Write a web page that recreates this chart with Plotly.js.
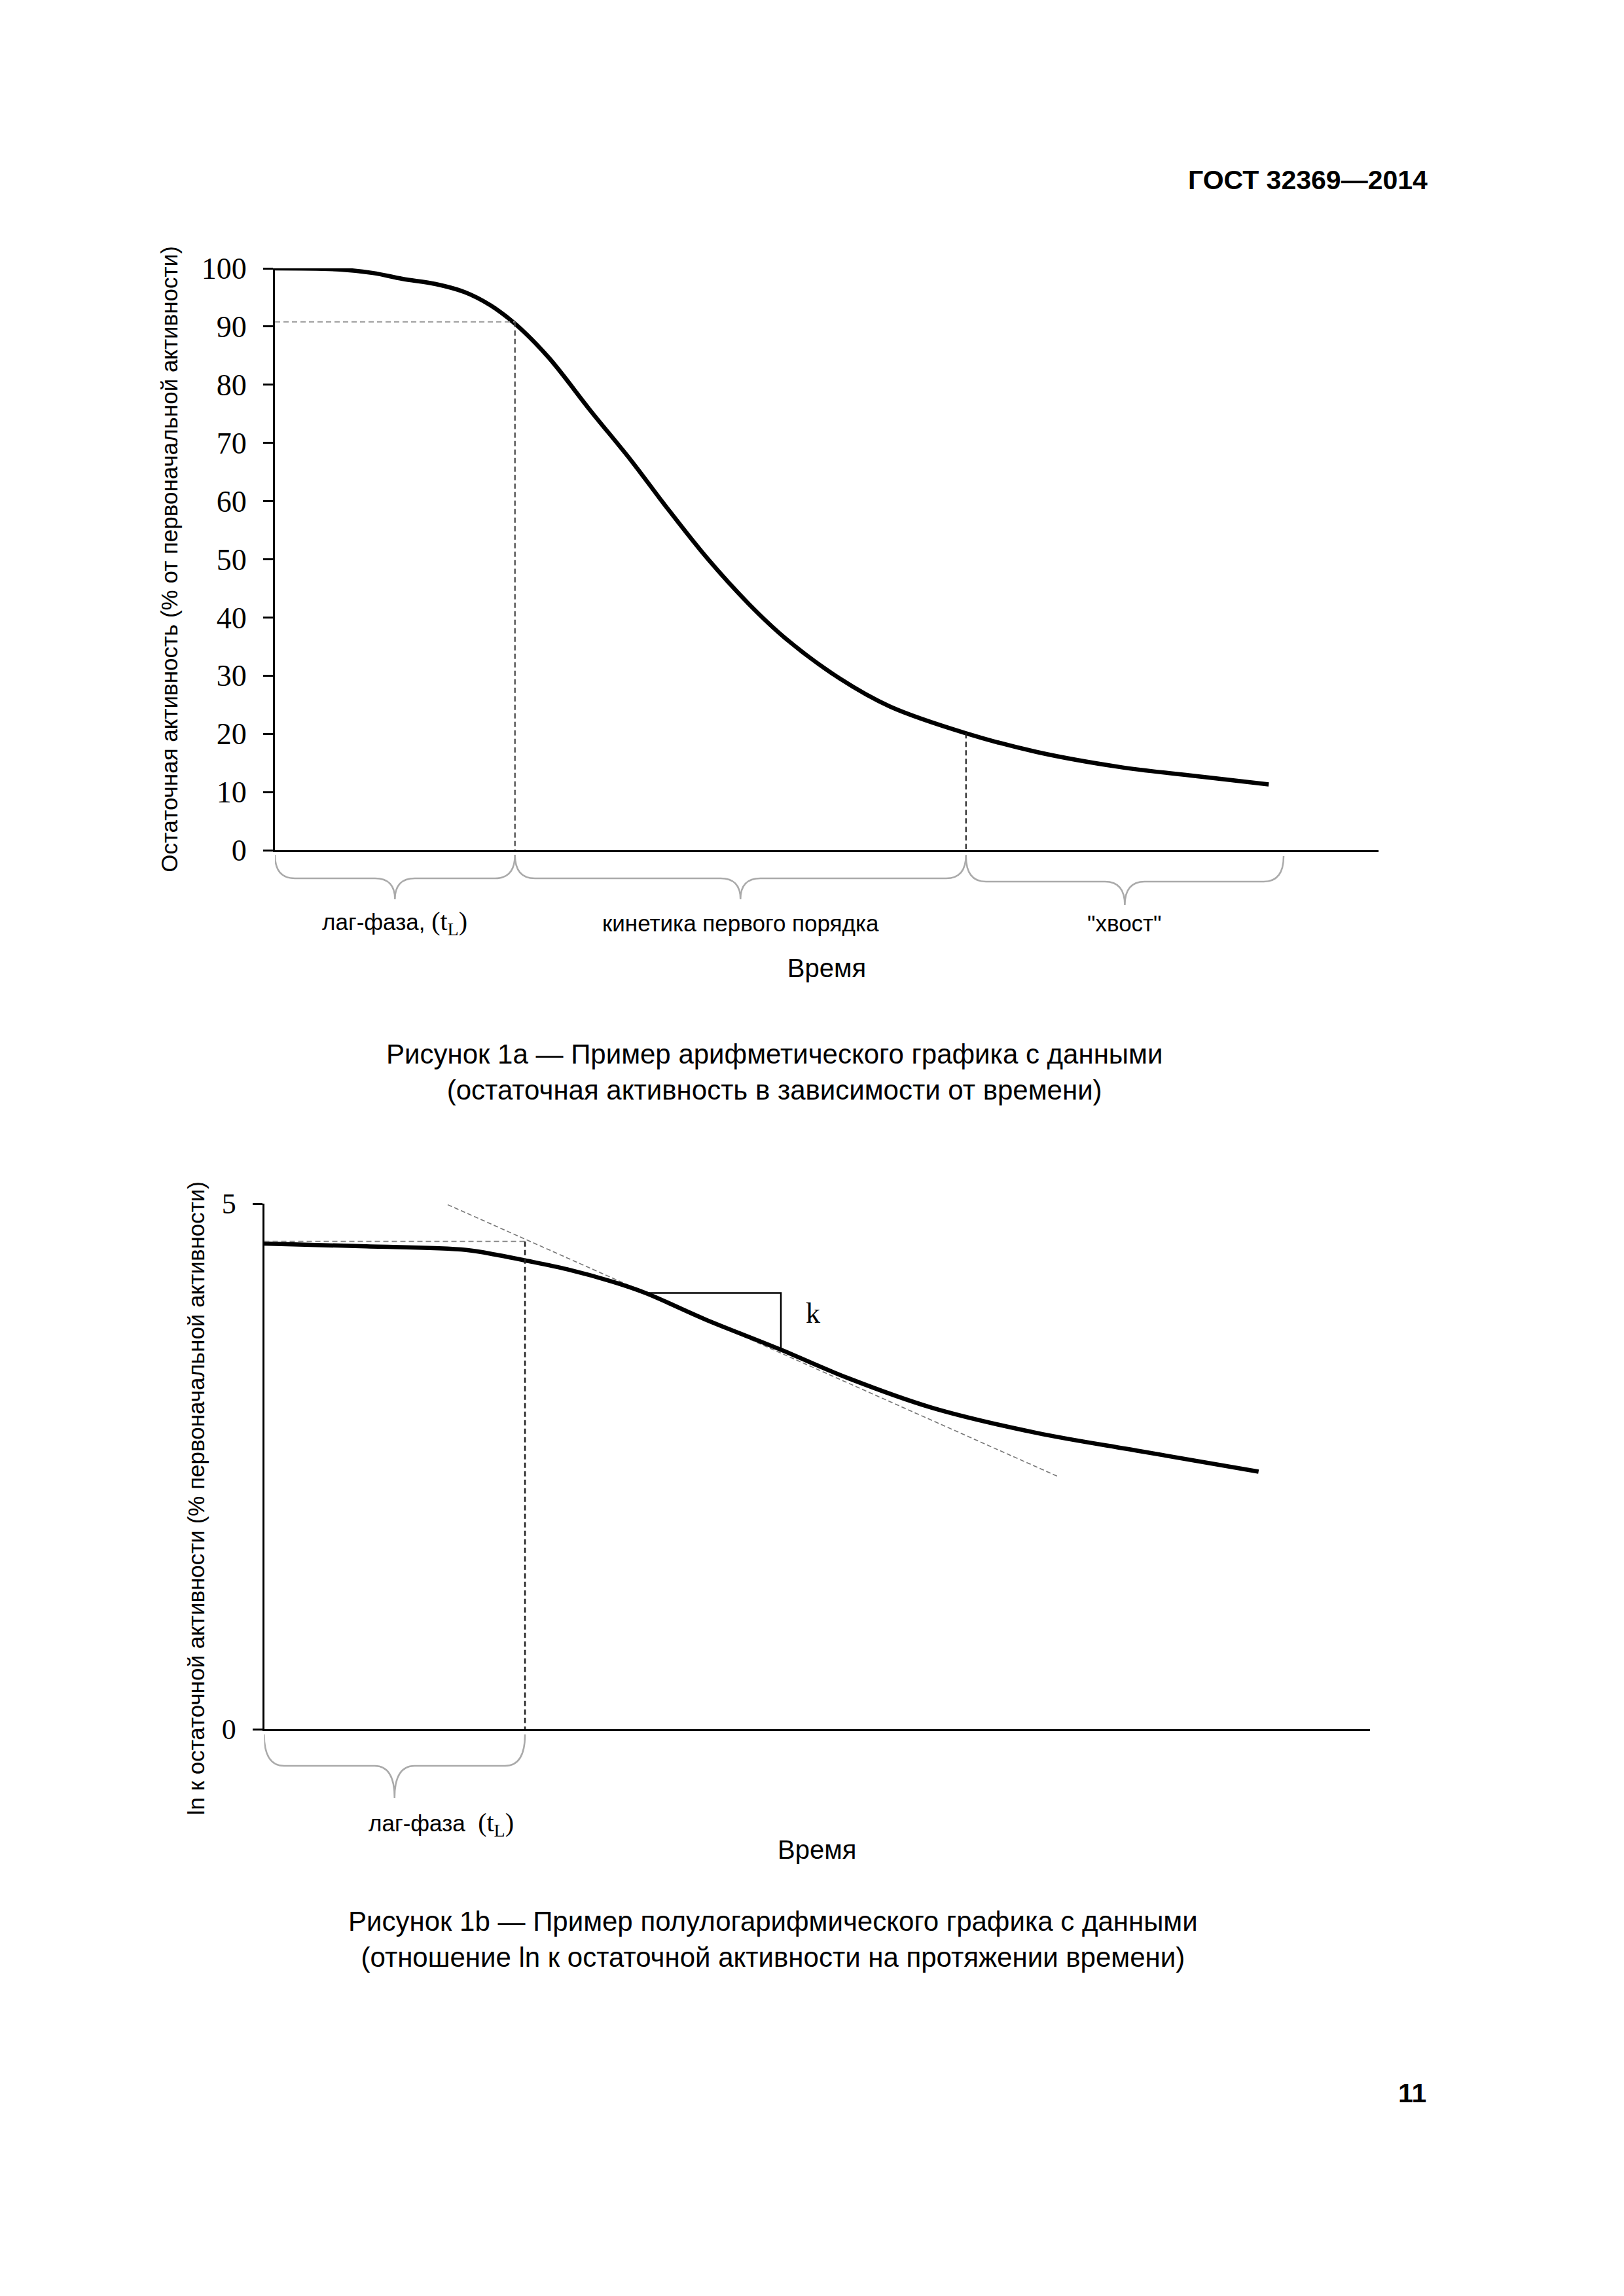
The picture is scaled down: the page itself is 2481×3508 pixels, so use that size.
<!DOCTYPE html>
<html>
<head>
<meta charset="utf-8">
<script src="https://cdn.plot.ly/plotly-3.0.1.min.js"></script>
<style>
  html, body { margin: 0; padding: 0; background: #fff; }
  #chart { width: 2481px; height: 3508px; }
</style>
</head>
<body>
<div id="chart"></div>
<script>
// ---------- DATA: Figure 1a (arithmetic plot) ----------
const time1 = [0, 5.87, 8.89, 11.54, 14.57, 17.22, 19.49, 21.75, 24.79, 28.57, 32.35, 35.38, 39.16, 42.95, 46.27, 51.19, 55.73, 62.62, 68.98, 76.54, 84.11, 90.05];
const activity1 = [100, 99.8, 99.2, 98.2, 97.3, 95.9, 93.7, 90.5, 84.7, 75.6, 66.8, 59.2, 50.2, 42.3, 36.4, 29.5, 24.7, 20.1, 16.9, 14.3, 12.6, 11.3];
const yTicks1 = [0, 10, 20, 30, 40, 50, 60, 70, 80, 90, 100];
const lagEnd1 = 21.75;      // end of lag phase (t_L)
const lagLevel1 = 90.8;     // activity at t_L
const tailStart1 = 62.62;   // start of "tail"
const tailLevel1 = 20.1;
const tailEnd1 = 91.4;
const phaseBounds1 = [0, lagEnd1, tailStart1, tailEnd1];
const phaseLabels1 = ['лаг-фаза, <span style="font-family:\'Liberation Serif\';font-size:40px">(t<sub>L</sub>)</span>', 'кинетика первого порядка', '"хвост"'];

// ---------- DATA: Figure 1b (semi-log plot) ----------
const time2 = [0, 8.73, 18.26, 21.16, 23.59, 27.42, 31.57, 34.48, 39.86, 46.73, 52.81, 60.34, 69.80, 79.22, 89.92];
const lnActivity2 = [4.62, 4.595, 4.56, 4.51, 4.46, 4.375, 4.255, 4.15, 3.90, 3.61, 3.34, 3.06, 2.82, 2.645, 2.45];
const yTicks2 = [0, 5];
const lagEnd2 = 23.59;
const lagLevel2 = 4.64;
const tangentX = [16.60, 71.87];
const tangentY = [4.99, 2.40];
const slopeX = [34.27, 46.73, 46.73];
const slopeY = [4.15, 4.15, 3.61];
const slopeLabelPos = [49.63, 3.93];
const phaseBounds2 = [0, lagEnd2];
const phaseLabels2 = ['лаг-фаза  <span style="font-family:\'Liberation Serif\';font-size:40px">(t<sub>L</sub>)</span>'];

// ---------- LAYOUT HELPERS ----------
const W = 2481, H = 3508;
const px = v => v / W;
const py = v => 1 - v / H;
const SANS = 'Liberation Sans, Arial, sans-serif';
const SERIF = 'Liberation Serif, Times New Roman, serif';

function bracePath(x0, x1, yTop, yH, yTip, dx) {
  const xm = (x0 + x1) / 2;
  const a = py(yTop), h = py(yH), t = py(yTip);
  return `M${x0},${a} Q${x0},${h} ${x0 + dx},${h} L${xm - dx},${h} Q${xm},${h} ${xm},${t} ` +
         `Q${xm},${h} ${xm + dx},${h} L${x1 - dx},${h} Q${x1},${h} ${x1},${a}`;
}

const traces = [
  // Figure 1a
  {x: time1, y: activity1, xaxis: 'x', yaxis: 'y', mode: 'lines',
   line: {color: '#000', width: 6.5, shape: 'spline', smoothing: 1}},
  {x: [0, lagEnd1], y: [lagLevel1, lagLevel1], xaxis: 'x', yaxis: 'y', mode: 'lines',
   line: {color: '#999', width: 2, dash: '8px,5px'}},
  {x: [lagEnd1, lagEnd1], y: [lagLevel1, 0], xaxis: 'x', yaxis: 'y', mode: 'lines',
   line: {color: '#444', width: 2.2, dash: '8px,5px'}},
  {x: [tailStart1, tailStart1], y: [tailLevel1, 0], xaxis: 'x', yaxis: 'y', mode: 'lines',
   line: {color: '#222', width: 2.2, dash: '8px,5px'}},
  // Figure 1b
  {x: tangentX, y: tangentY, xaxis: 'x2', yaxis: 'y2', mode: 'lines',
   line: {color: '#777', width: 1.6, dash: '7px,4px'}},
  {x: time2, y: lnActivity2, xaxis: 'x2', yaxis: 'y2', mode: 'lines',
   line: {color: '#000', width: 6.5, shape: 'spline', smoothing: 1}},
  {x: [0, lagEnd2], y: [lagLevel2, lagLevel2], xaxis: 'x2', yaxis: 'y2', mode: 'lines',
   line: {color: '#888', width: 2, dash: '8px,5px'}},
  {x: [lagEnd2, lagEnd2], y: [lagLevel2, 0], xaxis: 'x2', yaxis: 'y2', mode: 'lines',
   line: {color: '#222', width: 2.5, dash: '8px,5px'}},
  {x: slopeX, y: slopeY, xaxis: 'x2', yaxis: 'y2', mode: 'lines',
   line: {color: '#000', width: 2.5}}
];

const shapes = [];
const braceY1 = [[1306, 1342, 1374], [1306, 1342, 1374], [1308, 1347, 1383]];
for (let i = 0; i < phaseLabels1.length; i++) {
  const b = braceY1[i];
  shapes.push({type: 'path', xref: 'x', yref: 'paper',
    path: bracePath(phaseBounds1[i], phaseBounds1[i + 1], b[0], b[1], b[2], 1.8),
    line: {color: '#aaa', width: 2.5}});
}
shapes.push({type: 'path', xref: 'x2', yref: 'paper',
  path: bracePath(phaseBounds2[0], phaseBounds2[1], 2650, 2698, 2747, 1.8),
  line: {color: '#aaa', width: 2.5}});

const annotations = [
  {text: '<b>ГОСТ 32369—2014</b>', xref: 'paper', yref: 'paper', x: px(2183), y: py(275),
   xanchor: 'right', yanchor: 'middle', showarrow: false, font: {family: SANS, size: 41, color: '#000'}},
  {text: 'Рисунок 1а — Пример арифметического графика с данными<br>(остаточная активность в зависимости от времени)',
   xref: 'paper', yref: 'paper', x: px(1183), y: py(1638), xanchor: 'center', yanchor: 'middle',
   showarrow: false, font: {family: SANS, size: 42, color: '#000'}},
  {text: 'Рисунок 1b — Пример полулогарифмического графика с данными<br>(отношение ln к остаточной активности на протяжении времени)',
   xref: 'paper', yref: 'paper', x: px(1181), y: py(2963), xanchor: 'center', yanchor: 'middle',
   showarrow: false, font: {family: SANS, size: 42, color: '#000'}},
  {text: '<b>11</b>', xref: 'paper', yref: 'paper', x: px(2181), y: py(3198),
   xanchor: 'right', yanchor: 'middle', showarrow: false, font: {family: SANS, size: 41, color: '#000'}},
  {text: 'k', xref: 'x2', yref: 'y2', x: slopeLabelPos[0], y: slopeLabelPos[1] + 0.03,
   xanchor: 'center', yanchor: 'middle', showarrow: false, font: {family: SERIF, size: 44, color: '#000'}}
];
for (let i = 0; i < phaseLabels1.length; i++) {
  annotations.push({text: phaseLabels1[i], xref: 'x', yref: 'paper',
    x: (phaseBounds1[i] + phaseBounds1[i + 1]) / 2, y: py(1410),
    xanchor: 'center', yanchor: 'middle', showarrow: false,
    font: {family: SANS, size: 35, color: '#000'}});
}
annotations.push({text: phaseLabels2[0], xref: 'x2', yref: 'paper',
  x: 16.0, y: py(2787), xanchor: 'center', yanchor: 'middle', showarrow: false,
  font: {family: SANS, size: 35, color: '#000'}});

const axisCommon = {showgrid: false, zeroline: false, showline: true, linecolor: '#000',
  linewidth: 3, fixedrange: true};

const pad = '&nbsp;'.repeat(10);

const layout = {
  width: W, height: H,
  margin: {l: 0, r: 0, t: 0, b: 0, pad: 0},
  paper_bgcolor: '#fff', plot_bgcolor: '#fff',
  showlegend: false,
  font: {family: SANS, color: '#000'},
  xaxis: Object.assign({}, axisCommon, {
    domain: [px(420), px(2106)], range: [0, 100], anchor: 'y',
    ticks: '', showticklabels: false,
    title: {text: 'Время', font: {family: SANS, size: 40, color: '#000'}, standoff: 164}
  }),
  yaxis: Object.assign({}, axisCommon, {
    domain: [py(1299), py(410)], range: [0, 100], anchor: 'x',
    tickmode: 'array', tickvals: yTicks1, ticktext: yTicks1.map(String),
    ticks: 'outside', ticklen: 15, tickwidth: 3, tickcolor: '#000',
    ticklabelstandoff: 16,
    tickfont: {family: SERIF, size: 46, color: '#000'},
    title: {text: 'Остаточная активность (% от первоначальной активности)',
            font: {family: SANS, size: 35, color: '#000'}, standoff: 26}
  }),
  xaxis2: Object.assign({}, axisCommon, {
    domain: [px(403.5), px(2093)], range: [0, 100], anchor: 'y2',
    ticks: '', showticklabels: false,
    title: {text: 'Время', font: {family: SANS, size: 40, color: '#000'}, standoff: 168}
  }),
  yaxis2: Object.assign({}, axisCommon, {
    domain: [py(2642), py(1839)], range: [0, 5], anchor: 'x2',
    tickmode: 'array', tickvals: yTicks2, ticktext: yTicks2.map(String),
    ticks: 'outside', ticklen: 15, tickwidth: 3, tickcolor: '#000',
    ticklabelstandoff: 16,
    tickfont: {family: SERIF, size: 44, color: '#000'},
    title: {text: 'ln к остаточной активности (% первоначальной активности)' + pad,
            font: {family: SANS, size: 35, color: '#000'}, standoff: 16}
  }),
  shapes: shapes,
  annotations: annotations
};

Plotly.newPlot('chart', traces, layout, {displayModeBar: false, responsive: false});
</script>
</body>
</html>
